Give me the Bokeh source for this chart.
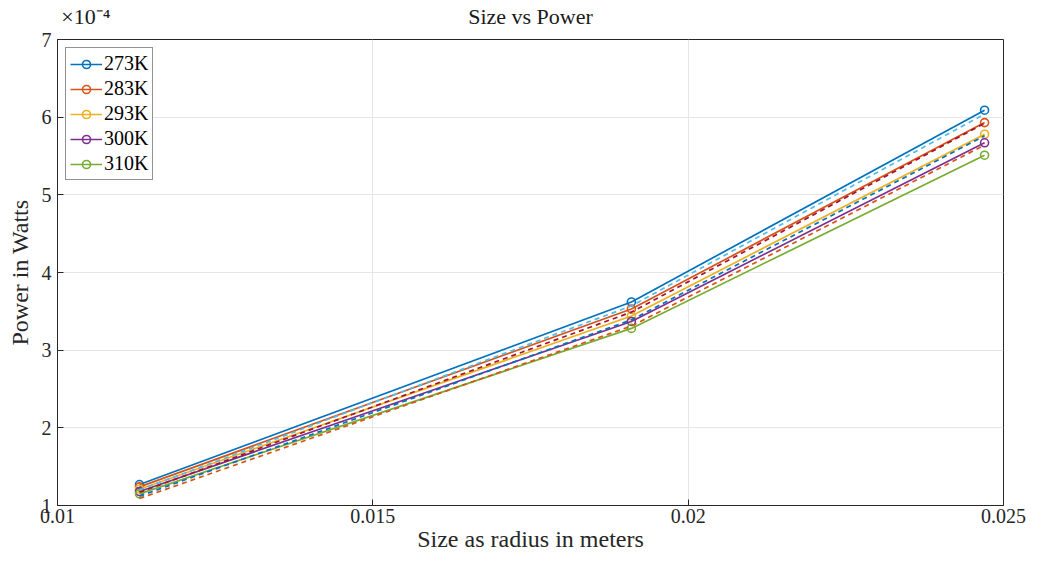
from bokeh.plotting import figure
from bokeh.models import Range1d, FixedTicker, Legend, LinearAxis
from bokeh.embed import file_html
from bokeh.resources import INLINE

# ---- data (power in units of 1e-4 W) ----
radius = [0.0113, 0.0191, 0.0247]
temps = ["273K", "283K", "293K", "300K", "310K"]
p273 = [1.27, 3.62, 6.09]
p283 = [1.24, 3.53, 5.93]
p293 = [1.21, 3.44, 5.78]
p300 = [1.18, 3.37, 5.67]
p310 = [1.15, 3.28, 5.51]
# dashed companion curves
d1 = [1.20, 3.57, 6.04]
d2 = [1.17, 3.49, 5.92]
d3 = [1.12, 3.39, 5.76]
d4 = [1.09, 3.31, 5.64]

x_ticks = [0.01, 0.015, 0.02, 0.025]
x_tick_labels = ["0.01", "0.015", "0.02", "0.025"]
y_ticks = [1, 2, 3, 4, 5, 6, 7]
title_text = "Size vs Power"
multiplier_text = "\u00d710\u207b\u2074"

solid_colors = ["#0072BD", "#D95319", "#EDB120", "#7E2F8E", "#77AC30"]
dash_colors = ["#4DBEEE", "#A2142F", "#0072BD", "#D95319"]

FONT = "Liberation Serif"

p = figure(frame_width=946, frame_height=466, x_range=Range1d(0.01, 0.025), y_range=Range1d(1, 7),
           output_backend="svg", toolbar_location=None,
           min_border_left=57, min_border_right=24, min_border_top=37, min_border_bottom=53)

p.outline_line_color = "#262626"
p.outline_line_width = 1

for ax in (p.xaxis[0], p.yaxis[0]):
    ax.axis_line_color = "#262626"
    ax.major_tick_line_color = "#262626"
    ax.major_tick_in = 6
    ax.major_tick_out = 0
    ax.minor_tick_line_color = None
    ax.major_label_text_font = FONT
    ax.major_label_text_font_size = "20px"
    ax.major_label_text_color = "#262626"
    ax.axis_label_text_font = FONT
    ax.axis_label_text_font_size = "24px"
    ax.axis_label_text_font_style = "normal"
    ax.axis_label_text_color = "#262626"

p.xaxis.ticker = FixedTicker(ticks=x_ticks)
p.xaxis.major_label_overrides = dict(zip(x_ticks, x_tick_labels))
p.yaxis.ticker = FixedTicker(ticks=y_ticks)
p.xaxis.axis_label = "Size as radius in meters"
p.yaxis.axis_label = "Power in Watts"
p.xaxis.major_label_standoff = 3
p.yaxis.major_label_standoff = 6
p.xaxis.axis_label_standoff = 0
p.yaxis.axis_label_standoff = 6

# top "axis" carrying the title and the x10^-4 multiplier
top_pos = [0.01045, 0.0175]
top_ax = LinearAxis(ticker=FixedTicker(ticks=top_pos),
                    major_label_overrides=dict(zip(top_pos, [multiplier_text, title_text])),
                    axis_line_color=None, major_tick_line_color=None, minor_tick_line_color=None,
                    major_label_text_font=FONT, major_label_text_font_size="22px",
                    major_label_text_color="#1a1a1a", major_label_standoff=5)
p.add_layout(top_ax, "above")

p.grid.grid_line_color = "#e6e6e6"
p.grid.grid_line_width = 1

solids = [p273, p283, p293, p300, p310]
items = []
for vals, col, lab in zip(solids, solid_colors, temps):
    r1 = p.line(radius, vals, line_color=col, line_width=1.7)
    r2 = p.scatter(radius, vals, marker="circle", size=8, fill_color=None,
                   line_color=col, line_width=1.6)
    items.append((lab, [r1, r2]))

for vals, col in zip([d1, d2, d3, d4], dash_colors):
    p.line(radius, vals, line_color=col, line_width=1.7, line_dash="5 4")

legend = Legend(items=items, location="top_left")
legend.margin = 8
legend.padding = 4
legend.spacing = 2
legend.label_height = 20
legend.glyph_height = 20
legend.glyph_width = 32
legend.label_text_font = FONT
legend.label_text_font_size = "20px"
legend.label_text_color = "#000000"
legend.label_standoff = 2
legend.border_line_color = "#262626"
legend.border_line_width = 1
legend.background_fill_alpha = 1
p.add_layout(legend)

open("out.html", "w").write(file_html(p, INLINE))
